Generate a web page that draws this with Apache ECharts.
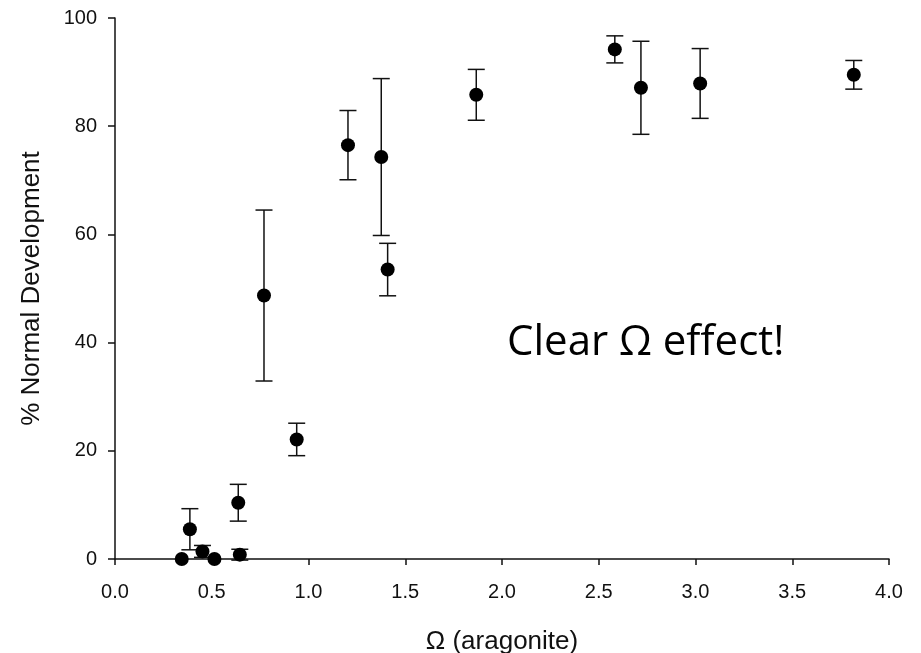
<!DOCTYPE html>
<html>
<head>
<meta charset="utf-8">
<script src="https://cdn.jsdelivr.net/npm/echarts@6/dist/echarts.min.js"></script>
<style>
html,body{margin:0;padding:0;background:#fff;}
#chart{width:921px;height:653px;}
</style>
</head>
<body>
<div id="chart"></div>
<script>
// Data
const omega      = [0.345, 0.387, 0.452, 0.514, 0.637, 0.645, 0.770, 0.939, 1.204, 1.376, 1.409, 1.867, 2.583, 2.718, 3.024, 3.818];
const pctNormal  = [0.0,   5.5,   1.4,   0.0,   10.4,  0.8,   48.7,  22.1,  76.5,  74.3,  53.5,  85.8,  94.2,  87.1,  87.9,  89.5];
const errBar     = [0.0,   3.8,   1.1,   0.0,   3.4,   1.0,   15.8,  3.0,   6.4,   14.5,  4.85,  4.7,   2.5,   8.6,   6.45,  2.65];
const xTicks = { min: 0, max: 4, step: 0.5 };
const yTicks = { min: 0, max: 100, step: 20 };
const annotation = 'Clear Ω effect!';

const points = omega.map((x, i) => [x, pctNormal[i]]);
const bars = omega.map((x, i) => [x, pctNormal[i] - errBar[i], pctNormal[i] + errBar[i]]);

const chart = echarts.init(document.getElementById('chart'));
const axisFont = { fontFamily: 'Liberation Sans, Arial, sans-serif', fontSize: 20, color: '#111' };
const titleFont = { fontFamily: 'Liberation Sans, Arial, sans-serif', fontSize: 26, color: '#111' };

chart.setOption({
  animation: false,
  backgroundColor: '#fff',
  grid: { left: 115, right: 32, top: 18, bottom: 94, containLabel: false, outerBoundsMode: 'none' },
  xAxis: {
    type: 'value',
    min: xTicks.min, max: xTicks.max, interval: xTicks.step,
    name: 'Ω (aragonite)', nameLocation: 'middle', nameGap: 70,
    nameTextStyle: titleFont,
    axisLine: { show: true, onZero: false, lineStyle: { color: '#111', width: 1.5 } },
    axisTick: { show: true, inside: false, length: 6, lineStyle: { color: '#111', width: 1.5 } },
    axisLabel: Object.assign({ margin: 23, formatter: v => v.toFixed(1) }, axisFont),
    splitLine: { show: false }
  },
  yAxis: {
    type: 'value',
    min: yTicks.min, max: yTicks.max, interval: yTicks.step,
    name: '% Normal Development', nameLocation: 'middle', nameGap: 70, nameRotate: 90,
    nameTextStyle: titleFont,
    axisLine: { show: true, onZero: false, lineStyle: { color: '#111', width: 1.5 } },
    axisTick: { show: true, inside: false, length: 7, lineStyle: { color: '#111', width: 1.5 } },
    axisLabel: Object.assign({ margin: 18 }, axisFont),
    splitLine: { show: false }
  },
  series: [
    {
      type: 'custom',
      data: bars,
      z: 2,
      renderItem: function (params, api) {
        const x = api.value(0);
        const lo = api.coord([x, api.value(1)]);
        const hi = api.coord([x, api.value(2)]);
        const hw = 8.5;
        const style = { stroke: '#111', lineWidth: 1.5, fill: null };
        if (Math.abs(lo[1] - hi[1]) < 0.5) return { type: 'group', children: [] };
        return {
          type: 'group',
          children: [
            { type: 'line', shape: { x1: lo[0], y1: lo[1], x2: hi[0], y2: hi[1] }, style: style },
            { type: 'line', shape: { x1: lo[0] - hw, y1: lo[1], x2: lo[0] + hw, y2: lo[1] }, style: style },
            { type: 'line', shape: { x1: hi[0] - hw, y1: hi[1], x2: hi[0] + hw, y2: hi[1] }, style: style }
          ]
        };
      }
    },
    {
      type: 'scatter',
      data: points,
      symbol: 'circle',
      symbolSize: 14,
      z: 3,
      itemStyle: { color: '#000', opacity: 1 }
    }
  ],
  graphic: [
    {
      type: 'text',
      x: 507, y: 343,
      style: { text: annotation, font: '42px "Open Sans", "Noto Sans", sans-serif', fill: '#000', verticalAlign: 'middle', align: 'left' }
    }
  ]
});
</script>
</body>
</html>
